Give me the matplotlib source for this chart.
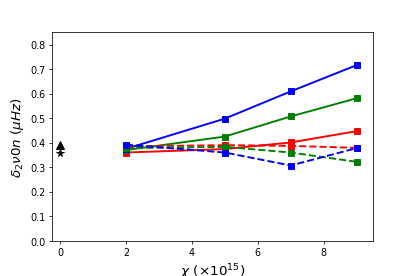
import matplotlib
matplotlib.use("Agg")
import matplotlib.pyplot as plt

chi = [2, 5, 7, 9]
red_solid = [0.360, 0.374, 0.401, 0.447]
green_solid = [0.370, 0.425, 0.507, 0.581]
blue_solid = [0.375, 0.498, 0.609, 0.716]
red_dashed = [0.385, 0.390, 0.387, 0.379]
green_dashed = [0.378, 0.383, 0.360, 0.322]
blue_dashed = [0.392, 0.360, 0.307, 0.378]
obs_x = [0]
obs_triangle = [0.390]
obs_star = [0.357]

DPI = 415 / 6.0
fig = plt.figure(figsize=(6.0, 4.0), dpi=DPI)
fig.subplots_adjust(left=0.125, right=0.899, bottom=0.127, top=0.881)
ax = fig.add_subplot(111)

ax.plot(chi, red_solid, '-s', color='red', ms=7, lw=2)
ax.plot(chi, green_solid, '-s', color='green', ms=7, lw=2)
ax.plot(chi, blue_solid, '-s', color='blue', ms=7, lw=2)
ax.plot(chi, red_dashed, '--s', color='red', ms=7, lw=2)
ax.plot(chi, green_dashed, '--s', color='green', ms=7, lw=2)
ax.plot(chi, blue_dashed, '--s', color='blue', ms=7, lw=2)
ax.plot(obs_x, obs_triangle, '^', color='black', ms=8)
ax.plot(obs_x, obs_star, '*', color='black', ms=8)

ax.set_xlim(-0.25, 9.5)
ax.set_ylim(0, 0.85)
ax.set_xticks([0, 2, 4, 6, 8])
ax.set_yticks([0.0, 0.1, 0.2, 0.3, 0.4, 0.5, 0.6, 0.7, 0.8])
ax.tick_params(labelsize=10)
ax.set_xlabel(r'$\chi$ ($\times 10^{15}$)', fontsize=14)
ax.set_ylabel(r'$\delta_2\nu0n$ ($\mu Hz$)', fontsize=14)

fig.savefig('out.png', dpi=DPI)
